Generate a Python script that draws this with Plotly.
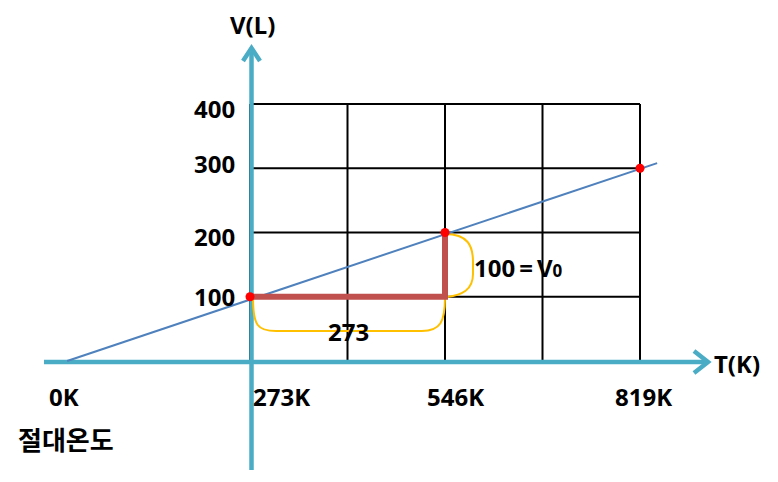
import plotly.graph_objects as go

# ---------------- data ----------------
x_tick_vals = [0, 273, 546, 819]
x_tick_labels = ["0K", "273K", "546K", "819K"]
y_tick_vals = [100, 200, 300, 400]
y_tick_labels = ["100", "200", "300", "400"]
grid_T = [273, 409.5, 546, 682.5, 819]
grid_V = [100, 200, 300, 400]
line_T = [17, 843]
line_V = [0, 308]
point_T = [273, 546, 819]
point_V = [100, 200, 300]
step_T = [273, 546, 546]
step_V = [100, 100, 200]
dT_label = "273"
dV_label = "100\u2009=\u2009V<span style='font-size:17px'>0</span>"
x_title = "T(K)"
y_title = "V(L)"
zero_caption = "절대온도"

# ---------------- layout helpers (pixel -> data) ----------------
W, H = 778, 482
KX = 195 / 273.0      # px per K
KY = 257 / 400.0      # px per L
def tx(px):
    return 273 + (px - 250) / KX
def vy(py):
    return (361 - py) / KY

AXIS_C = "#4BACC6"
FONT = "Noto Sans, Noto Sans CJK KR, sans-serif"
fs = 24

fig = go.Figure()
shapes = []

# grid
for t in grid_T:
    shapes.append(dict(type="line", xref="x", yref="y", x0=t, x1=t, y0=0, y1=400,
                       line=dict(color="black", width=2), layer="below"))
for v in grid_V:
    shapes.append(dict(type="line", xref="x", yref="y", x0=273, x1=819, y0=v, y1=v,
                       line=dict(color="black", width=2), layer="below"))

# axes lines
shapes.append(dict(type="line", xref="x", yref="y", x0=tx(44), x1=tx(707), y0=vy(362), y1=vy(362),
                   line=dict(color=AXIS_C, width=4.5), layer="below"))
shapes.append(dict(type="line", xref="x", yref="y", x0=tx(251.5), x1=tx(251.5), y0=vy(470), y1=vy(49),
                   line=dict(color=AXIS_C, width=4.5), layer="below"))

# yellow brackets
def P(px, py):
    return f"{tx(px):.3f},{vy(py):.3f}"
bottom = (f"M {P(253,298)} C {P(253,326)} {P(258,331)} {P(276,331)} "
          f"L {P(422,331)} C {P(440,331)} {P(445,322)} {P(445,298)}")
right = (f"M {P(445,234)} C {P(468,234)} {P(473,246)} {P(473,262)} "
         f"L {P(473,274)} C {P(473,290)} {P(462,295)} {P(447,297)}")
for p in (bottom, right):
    shapes.append(dict(type="path", xref="x", yref="y", path=p,
                       line=dict(color="#FFC000", width=2), layer="below"))
fig.update_layout(shapes=shapes)

# arrow heads (chevrons)
fig.add_trace(go.Scatter(x=[tx(694), tx(708), tx(694)], y=[vy(351), vy(362), vy(373)],
                         mode="lines", line=dict(color=AXIS_C, width=4.5), hoverinfo="skip",
                         showlegend=False))
fig.add_trace(go.Scatter(x=[tx(243), tx(251.5), tx(260)], y=[vy(61), vy(48), vy(61)],
                         mode="lines", line=dict(color=AXIS_C, width=4.5), hoverinfo="skip",
                         showlegend=False))

# Charles's law line
fig.add_trace(go.Scatter(x=line_T, y=line_V, mode="lines",
                         line=dict(color="#4F81BD", width=2), showlegend=False))
# step (ΔT, ΔV)
fig.add_trace(go.Scatter(x=step_T, y=step_V, mode="lines",
                         line=dict(color="#C0504D", width=6), showlegend=False))
# red points
fig.add_trace(go.Scatter(x=point_T, y=point_V, mode="markers",
                         marker=dict(color="#FF0000", size=9), showlegend=False))

ann = []
# x tick labels
x_shift = [9, 31, 10, 3]
for v, lab, s in zip(x_tick_vals, x_tick_labels, x_shift):
    ann.append(dict(x=v, y=vy(396), xref="x", yref="y", text=lab, showarrow=False,
                    xanchor="center", yanchor="middle", xshift=s))
# y tick labels
y_shift = [0, -3.5, 4.5, -4]
for v, lab, s in zip(y_tick_vals, y_tick_labels, y_shift):
    ann.append(dict(x=tx(237), y=v, xref="x", yref="y", text=lab, showarrow=False,
                    xanchor="right", yanchor="middle", yshift=s))
ann.append(dict(x=tx(66), y=vy(440), xref="x", yref="y", text=zero_caption, showarrow=False,
                xanchor="center", yanchor="middle"))
ann.append(dict(x=tx(252), y=vy(24), xref="x", yref="y", text=y_title, showarrow=False,
                xanchor="center", yanchor="middle"))
ann.append(dict(x=tx(712), y=vy(363), xref="x", yref="y", text=x_title, showarrow=False,
                xanchor="left", yanchor="middle"))
ann.append(dict(x=tx(348), y=vy(331), xref="x", yref="y", text=dT_label, showarrow=False,
                xanchor="center", yanchor="middle"))
ann.append(dict(x=tx(472), y=vy(267), xref="x", yref="y", text=dV_label, showarrow=False,
                xanchor="left", yanchor="middle"))
for a in ann:
    a["font"] = dict(family=FONT, size=fs, color="black", weight="bold")
# Korean caption slightly larger
ann[8]["font"] = dict(family=FONT, size=26, color="black", weight="bold")

fig.update_layout(
    annotations=ann,
    width=W, height=H,
    margin=dict(l=0, r=0, t=0, b=0),
    paper_bgcolor="white", plot_bgcolor="white",
    xaxis=dict(range=[tx(0), tx(W)], visible=False, fixedrange=True),
    yaxis=dict(range=[vy(H), vy(0)], visible=False, fixedrange=True),
    showlegend=False,
)

fig.write_html("out.html", config={"displayModeBar": False},
               post_script="document.body.style.margin='0';document.body.style.overflow='hidden';")
